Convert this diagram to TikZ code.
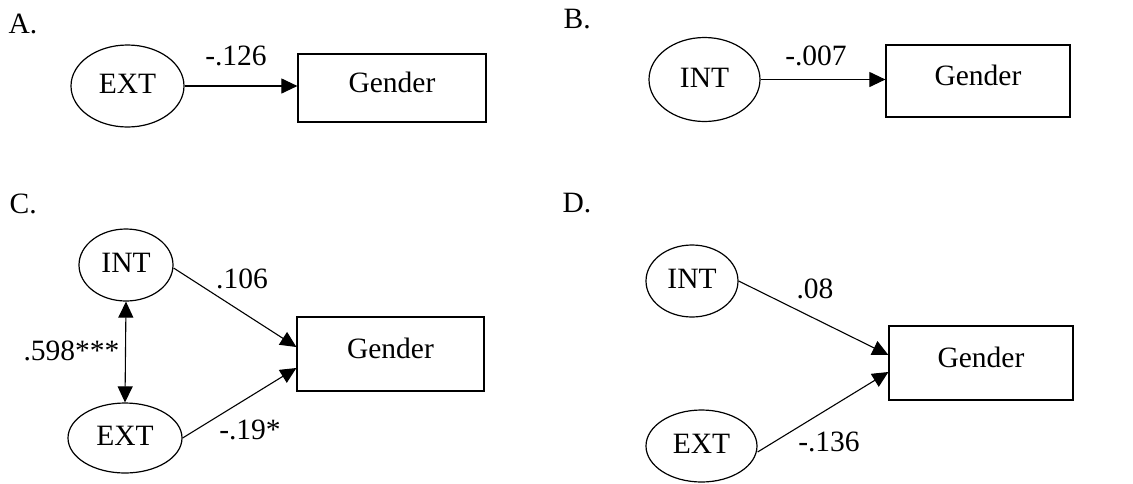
\documentclass[tikz,border=0pt]{standalone}
\usepackage{fontspec}
\setmainfont{Liberation Serif}
\usetikzlibrary{shapes.geometric,arrows.meta}
\begin{document}
\begin{tikzpicture}[x=1pt,y=-1pt,
  font=\fontsize{29.5}{34}\selectfont,
  line width=1.2pt,
  latent/.style={draw, ellipse, inner sep=0pt, text height=20pt, text depth=5pt},
  observed/.style={draw, rectangle, inner sep=0pt, text height=20pt, text depth=11pt},
  tip/.style={Triangle[length=16pt,width=15pt]},
  path/.style={-{Triangle[length=16pt,width=15pt]}, line width=1.1pt},
  cov/.style={{Triangle[length=16pt,width=15pt]}-{Triangle[length=16pt,width=15pt]}, line width=1.1pt},
  coef/.style={anchor=base, inner sep=0pt},
  panel/.style={anchor=base west, inner sep=0pt}]
\useasboundingbox (0,0) rectangle (1133,483);

% Panel A: EXT -> Gender
\node[panel] (labA) at (8,33) {A.};
\node[latent, minimum width=113pt, minimum height=82pt] (extA) at (127.5,86) {EXT};
\node[observed, minimum width=188pt, minimum height=68pt] (genA) at (392,88) {Gender};
\draw[path] (extA.east) -- (extA.east -| genA.west);
\node[coef] (cA) at (236,65) {-.126};

% Panel B: INT -> Gender
\node[panel] (labB) at (563,28) {B.};
\node[latent, minimum width=111pt, minimum height=84pt] (intB) at (704.5,79.5) {INT};
\node[observed, minimum width=184pt, minimum height=72pt] (genB) at (978,81) {Gender};
\draw[path] (intB.east) -- (intB.east -| genB.west);
\node[coef] (cB) at (816,65) {-.007};

% Panel C: INT and EXT correlated, both -> Gender
\node[panel] (labC) at (9,213) {C.};
\node[latent, minimum width=94pt, minimum height=72pt] (intC) at (126,265) {INT};
\node[latent, minimum width=114pt, minimum height=70pt] (extC) at (125,438) {EXT};
\node[observed, minimum width=187pt, minimum height=74pt] (genC) at (390.5,354) {Gender};
\draw[cov] (intC.south) -- (extC.north);
\draw[path] ([yshift=-3pt]intC.east) -- ([yshift=7pt]genC.west);
\draw[path] (extC.east) -- ([yshift=-14pt]genC.west);
\node[coef] (cC1) at (242,288) {.106};
\node[coef] (cC2) at (71.5,360) {.598***};
\node[coef] (cC3) at (250,439) {-.19*};

% Panel D: INT and EXT, both -> Gender
\node[panel] (labD) at (562,212) {D.};
\node[latent, minimum width=92pt, minimum height=72pt] (intD) at (692,281) {INT};
\node[latent, minimum width=111pt, minimum height=72pt] (extD) at (701.5,446) {EXT};
\node[observed, minimum width=184pt, minimum height=74pt] (genD) at (981,363) {Gender};
\draw[path] (intD.east) -- ([yshift=8pt]genD.west);
\draw[path] ([yshift=-6pt]extD.east) -- ([yshift=-9pt]genD.west);
\node[coef] (cD1) at (815,298) {.08};
\node[coef] (cD2) at (829,451) {-.136};
\end{tikzpicture}
\end{document}
